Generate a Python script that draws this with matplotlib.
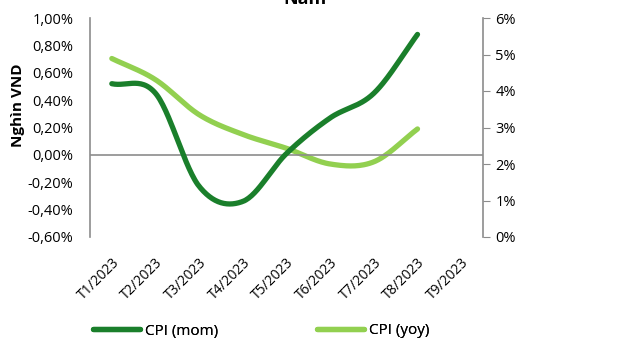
import numpy as np
import matplotlib.pyplot as plt

months = ["T1/2023", "T2/2023", "T3/2023", "T4/2023", "T5/2023",
          "T6/2023", "T7/2023", "T8/2023", "T9/2023"]
cpi_mom = [0.52, 0.45, -0.23, -0.34, 0.01, 0.27, 0.45, 0.88]   # %
cpi_yoy = [4.89, 4.31, 3.35, 2.81, 2.43, 2.00, 2.06, 2.96]     # %

DARK = "#1a7f2b"
LIGHT = "#92d050"
GREY = "#8c8c8c"

plt.rcParams["font.family"] = ["Open Sans", "DejaVu Sans"]


def smooth(y, n=30):
    # Catmull-Rom curve through the points, like Excel's smoothed line
    y = np.asarray(y, float)
    x = np.arange(len(y), dtype=float)
    p = np.concatenate([[2 * y[0] - y[1]], y, [2 * y[-1] - y[-2]]])
    xs, ys = [], []
    for i in range(len(y) - 1):
        t = np.linspace(0, 1, n, endpoint=(i == len(y) - 2))
        p0, p1, p2, p3 = p[i], p[i + 1], p[i + 2], p[i + 3]
        ys.append(0.5 * (2 * p1 + (-p0 + p2) * t
                         + (2 * p0 - 5 * p1 + 4 * p2 - p3) * t ** 2
                         + (-p0 + 3 * p1 - 3 * p2 + p3) * t ** 3))
        xs.append(x[i] + t)
    return np.concatenate(xs), np.concatenate(ys)


fig = plt.figure(figsize=(6.17, 3.41), dpi=100)
ax = fig.add_axes([90 / 617, 1 - 237 / 341, 393 / 617, 219 / 341])
ax2 = ax.twinx()

xm, ym = smooth(cpi_mom)
xy, yy = smooth(cpi_yoy)
l1, = ax.plot(xm, ym, color=DARK, lw=3.8, solid_capstyle="round", zorder=3,
              label="CPI (mom)")
l2, = ax2.plot(xy, yy, color=LIGHT, lw=3.8, solid_capstyle="round", zorder=2,
               label="CPI (yoy)")
ax.set_zorder(ax2.get_zorder() + 1)
ax.patch.set_visible(False)

ax.set_xlim(-0.5, len(months) - 0.5)
ax.set_ylim(-0.6, 1.0)
ax.set_yticks(np.arange(-0.6, 1.01, 0.2))
ax.set_yticklabels([f"{v:.2f}%".replace(".", ",") for v in np.arange(-0.6, 1.01, 0.2)])
ax.axhline(0, color=GREY, lw=1.2, zorder=1)
ax.set_xticks(range(len(months)))
ax.set_xticklabels(months, rotation=45, ha="right", rotation_mode="anchor")
ax.tick_params(axis="x", length=0, pad=13, labelsize=10)
ax.tick_params(axis="y", length=0, pad=12, labelsize=10.5)

ax2.set_ylim(0, 6)
ax2.set_yticks(range(0, 7))
ax2.set_yticklabels([f"{v}%" for v in range(0, 7)])
ax2.tick_params(axis="y", length=5, color=GREY, pad=4, labelsize=10.5)

for a in (ax, ax2):
    for s in ("top", "bottom"):
        a.spines[s].set_visible(False)
ax.spines["right"].set_visible(False)
ax2.spines["left"].set_visible(False)
ax.spines["left"].set_color(GREY)
ax.spines["left"].set_linewidth(1.2)
ax2.spines["right"].set_color(GREY)
ax2.spines["right"].set_linewidth(1.2)

fig.text(18 / 617, 1 - 105 / 341, "Nghìn VND", rotation=90, ha="center",
         va="center", fontsize=11, fontweight="bold")
fig.text(305 / 617, 1 - 4 / 341, "Năm", ha="center", va="baseline",
         fontsize=13, fontweight="bold")

# legend entries placed one by one under the chart
for handle, x0 in ((l1, 93), (l2, 317)):
    leg = fig.legend(handles=[handle], loc="center left",
                     bbox_to_anchor=(x0 / 617, 1 - 331 / 341), frameon=False,
                     fontsize=11, handlelength=3.1, handletextpad=0.3,
                     borderpad=0, borderaxespad=0)
    fig.add_artist(leg)

fig.savefig("out.png", dpi=100)
